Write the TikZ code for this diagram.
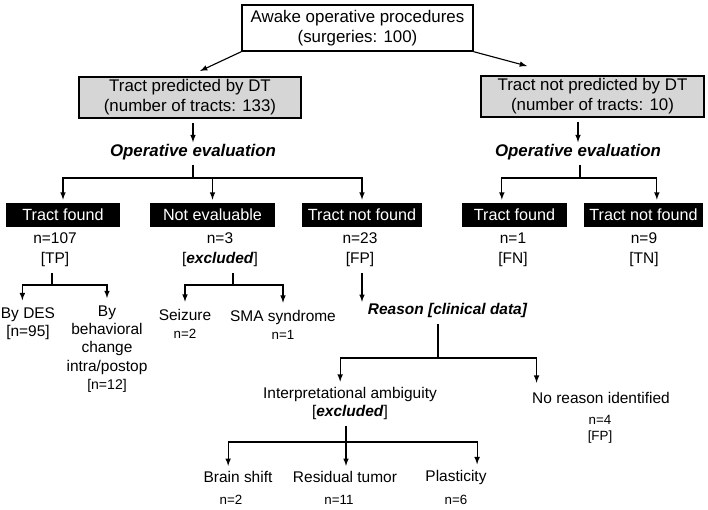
\documentclass[tikz,border=0pt]{standalone}
\usepackage{fontspec}
\setmainfont{Liberation Sans}
\usetikzlibrary{arrows, calc, positioning}

\begin{document}
\begin{tikzpicture}[x=0.025cm, y=-0.025cm, line width=0.8pt,
	outbox/.style={draw, line width=1pt, align=center, inner sep=0pt, font=\fontsize{12}{14.2}\selectfont},
	greybox/.style={outbox, fill=black!16},
	darkbox/.style={fill=black, text=white, inner sep=0pt, minimum height=0.6cm, font=\fontsize{11.5}{13}\selectfont},
	headline/.style={inner sep=1pt, font=\fontsize{12}{14}\selectfont\bfseries\itshape},
	count/.style={align=center, inner sep=1pt, font=\fontsize{11}{14.2}\selectfont},
	leaf/.style={align=center, inner sep=1pt, font=\fontsize{11}{13}\selectfont},
	tiny/.style={align=center, inner sep=1pt, font=\fontsize{9.5}{11.4}\selectfont},
	arr/.style={-latex}]

	\useasboundingbox (0,0) rectangle (708,510);

	% surgeries and the two groups of tracts
	\node[outbox, minimum width=5.775cm, minimum height=1.15cm] (surg) at (357.5,28) {Awake operative procedures\\(surgeries: 100)};
	\node[greybox, minimum width=5.55cm, minimum height=1.025cm] (predL) at (190,97.5) {Tract predicted by DT\\(number of tracts: 133)};
	\node[greybox, minimum width=5.575cm, minimum height=1.025cm] (predR) at (592.5,96.5) {Tract not predicted by DT\\(number of tracts: 10)};
	\coordinate (tipL) at (200,71);
	\coordinate (tipR) at (527,66);
	\draw[arr] (surg.south west) -- (tipL);
	\draw[arr] (surg.south east) -- (tipR);

	\node[headline] (evalL) at (193,152) {Operative evaluation};
	\node[headline] (evalR) at (578,152) {Operative evaluation};
	\draw[arr] ([yshift=-3pt]predL.south -| evalL) -- (evalL.north);
	\draw[arr] ([yshift=-3pt]predR.south -| evalR) -- (evalR.north);

	% black boxes
	\node[darkbox, minimum width=2.85cm] (foundL) at (63,215) {Tract found};
	\node[darkbox, minimum width=3.125cm] (noevalL) at (212.5,215) {Not evaluable};
	\node[darkbox, minimum width=3cm] (nfoundL) at (362,215) {Tract not found};
	\node[darkbox, minimum width=2.625cm] (foundR) at (514.5,215) {Tract found};
	\node[darkbox, minimum width=2.975cm] (nfoundR) at (643.5,215) {Tract not found};

	\coordinate (forkL) at (193,178);
	\coordinate (forkR) at (580,178);
	\draw ([yshift=-2pt]evalL.south -| forkL) -- (forkL);
	\draw ([yshift=-2pt]evalR.south -| forkR) -- (forkR);
	\draw[arr] (forkL) -| ([yshift=2pt]foundL.north);
	\draw[arr] (forkL) -| ([yshift=2pt]noevalL.north);
	\draw[arr] (forkL) -| ([yshift=2pt]nfoundL.north);
	\draw[arr] (forkR) -| ([xshift=-9pt,yshift=2pt]foundR.north);
	\draw[arr] (forkR) -| ([xshift=9.5pt,yshift=2pt]nfoundR.north);

	\node[count] (c107) at (55,250) {n=107\\{[TP]}};
	\node[count] (c3) at (220,250) {n=3\\{[\textbf{\textit{excluded}}]}};
	\node[count] (c23) at (360,250) {n=23\\{[FP]}};
	\node[count] (c1) at (513,250) {n=1\\{[FN]}};
	\node[count] (c9) at (644,250) {n=9\\{[TN]}};

	% tract found
	\node[leaf] (bydes) at (28,324) {By DES\\{[n=95]}};
	\node[leaf] (behav) at (107,349) {By\\behavioral\\change\\intra/postop\\{\fontsize{10}{12}\selectfont[n=12]}};
	\coordinate (forkTP) at (52,285);
	\draw ([yshift=-3pt]c107.south -| forkTP) -- (forkTP);
	\draw[arr] (forkTP) -| ([xshift=-4pt,yshift=4pt]bydes.north);
	\draw[arr] (forkTP) -| ([yshift=4pt]behav.north);

	% not evaluable
	\node[leaf] (seiz) at (185,324) {Seizure\\{\fontsize{9.5}{11}\selectfont n=2}};
	\node[leaf] (sma) at (283,325) {SMA syndrome\\{\fontsize{9.5}{11}\selectfont n=1}};
	\coordinate (forkNE) at (233,285);
	\draw ([yshift=-3pt]c3.south -| forkNE) -- (forkNE);
	\draw[arr] (forkNE) -| ([yshift=4pt]seiz.north);
	\draw[arr] (forkNE) -| ([yshift=4pt]sma.north);

	% tract not found
	\node[headline, anchor=west, font=\fontsize{11}{13}\selectfont\bfseries\itshape] (reason) at (366,311) {Reason [clinical data]};
	\draw[arr] ([yshift=-3pt]c23.south -| nfoundL) -- (reason.north -| nfoundL);

	\node[leaf] (interp) at (350,403.5) {Interpretational ambiguity\\{[\textbf{\textit{excluded}}]}};
	\node[leaf] (noreason) at (601,398) {No reason identified};
	\node[tiny] (c4) at (600,429) {n=4\\{[FP]}};
	\coordinate (forkRe) at (438,358);
	\draw ([yshift=-3pt]reason.south -| forkRe) -- (forkRe);
	\draw[arr] (forkRe) -| ([xshift=-7pt,yshift=2.5pt]interp.north);
	\draw[arr] (forkRe) -| ([xshift=4.5pt,yshift=5.4pt]noreason.north west);

	\node[leaf] (brain) at (238,477) {Brain shift};
	\node[leaf] (resid) at (345,477) {Residual tumor};
	\node[leaf] (plast) at (456,477) {Plasticity};
	\node[tiny] (n2) at (231,500) {n=2};
	\node[tiny] (n11) at (339,500) {n=11};
	\node[tiny] (n6) at (456,500) {n=6};
	\coordinate (forkIA) at (346,442);
	\draw ([yshift=-3pt]interp.south -| forkIA) -- (forkIA);
	\draw[arr] (forkIA) -| ([xshift=-7pt,yshift=2.5pt]brain.north);
	\draw[arr] (forkIA) -- ([yshift=2.5pt]resid.north -| forkIA);
	\draw[arr] (forkIA) -| ([xshift=15pt,yshift=2.5pt]plast.north);
\end{tikzpicture}
\end{document}
